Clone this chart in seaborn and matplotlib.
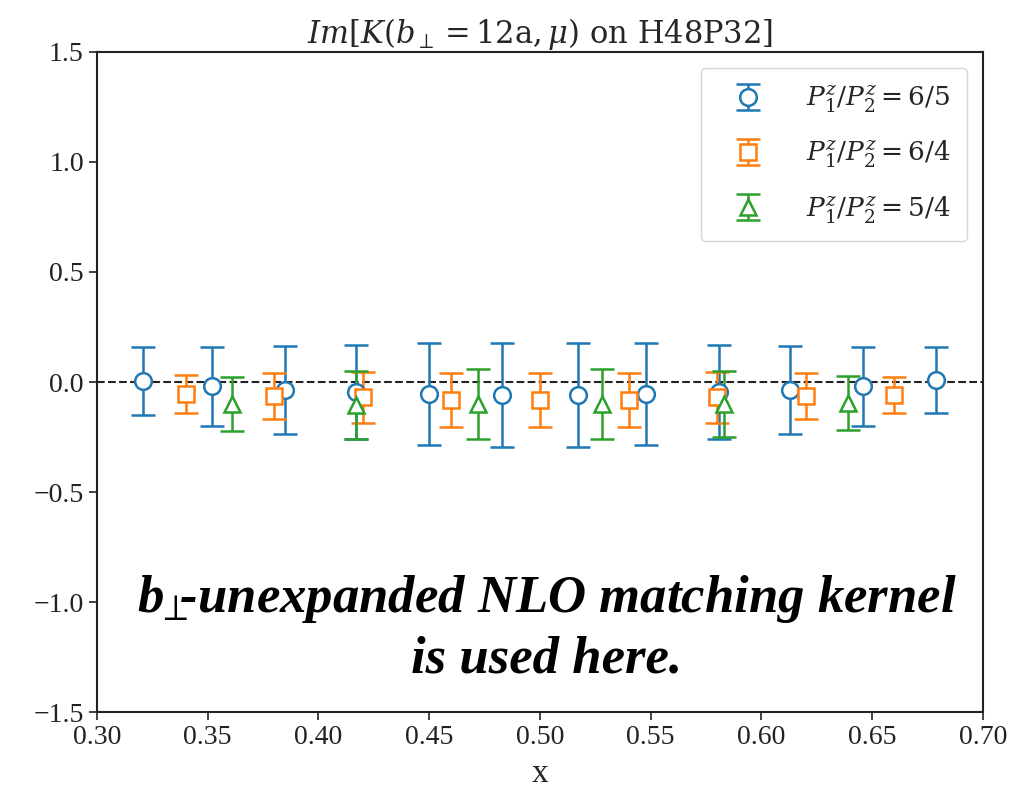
import numpy as np
import matplotlib
matplotlib.use("Agg")
import matplotlib.pyplot as plt
import seaborn as sns
from matplotlib.ticker import FuncFormatter

# ---- data ----
x_65 = [0.321, 0.352, 0.385, 0.417, 0.450, 0.483, 0.517, 0.548, 0.581, 0.613, 0.646, 0.679]
y_65 = [0.005, -0.02, -0.035, -0.045, -0.055, -0.06, -0.06, -0.055, -0.045, -0.035, -0.02, 0.01]
e_65 = [0.155, 0.18, 0.20, 0.215, 0.23, 0.235, 0.235, 0.23, 0.215, 0.20, 0.18, 0.15]

x_64 = [0.34, 0.38, 0.42, 0.46, 0.50, 0.54, 0.58, 0.62, 0.66]
y_64 = [-0.055, -0.065, -0.07, -0.08, -0.08, -0.08, -0.07, -0.065, -0.06]
e_64 = [0.085, 0.105, 0.117, 0.123, 0.123, 0.123, 0.117, 0.105, 0.083]

x_54 = [0.361, 0.417, 0.472, 0.528, 0.583, 0.639]
y_54 = [-0.10, -0.105, -0.10, -0.10, -0.10, -0.095]
e_54 = [0.124, 0.153, 0.157, 0.157, 0.152, 0.122]

labels = [r"$P_1^z/P_2^z = 6/5$", r"$P_1^z/P_2^z = 6/4$", r"$P_1^z/P_2^z = 5/4$"]
title = r"$Im[K(b_\perp = 12\mathrm{a}, \mu)$ on H48P32]"
xticks = [0.30, 0.35, 0.40, 0.45, 0.50, 0.55, 0.60, 0.65, 0.70]
yticks = [-1.5, -1.0, -0.5, 0.0, 0.5, 1.0, 1.5]

sns.set_style("ticks")
plt.rcParams["font.family"] = ["Liberation Serif", "DejaVu Serif"]
plt.rcParams["mathtext.fontset"] = "dejavuserif"
plt.rcParams["axes.unicode_minus"] = True

colors = sns.color_palette("tab10", 3)
fig = plt.figure(figsize=(10.26, 7.96), dpi=100)
ax = fig.add_axes([0.0945, 0.1055, 0.8635, 0.8292])

series = [(x_65, y_65, e_65, "o"), (x_64, y_64, e_64, "s"), (x_54, y_54, e_54, "^")]
for (xs, ys, es, m), c, lab in zip(series, colors, labels):
    ax.errorbar(xs, ys, yerr=es, fmt=m, color=c, mfc="white", mec=c, mew=1.8,
                ms=12, capsize=8.5, capthick=1.8, elinewidth=1.8, label=lab, zorder=3)

ax.axhline(0, color="#222222", ls="--", lw=1.5, zorder=2)

ax.set_xlim(0.30, 0.70)
ax.set_ylim(-1.5, 1.5)
ax.set_xticks(xticks)
ax.set_yticks(yticks)
ax.xaxis.set_major_formatter(FuncFormatter(lambda v, p: f"{v:.2f}".replace("-", "\u2212")))
ax.yaxis.set_major_formatter(FuncFormatter(lambda v, p: f"{v:.1f}".replace("-", "\u2212")))
ax.tick_params(direction="out", length=6, width=1.2, colors="#222222", labelsize=20)
for s in ax.spines.values():
    s.set_color("#222222")
    s.set_linewidth(1.5)

ax.set_xlabel("x", fontsize=24, labelpad=6)
ax.set_title(title, fontfamily="DejaVu Serif", fontsize=22, pad=6)

ax.legend(loc="upper right", prop={"family": "DejaVu Serif", "size": 19},
          frameon=True, fancybox=True, edgecolor="#cccccc",
          handlelength=2.4, handletextpad=1.0, borderpad=0.6, labelspacing=0.9,
          borderaxespad=0.6)

ax.text(0.503, -1.045, r"b$\!_\perp\!\!$-unexpanded NLO matching kernel", ha="center", va="baseline",
        color="black", fontweight="bold", fontstyle="italic", fontsize=38, zorder=5)
ax.text(0.503, -1.32, "is used here.", ha="center", va="baseline",
        color="black", fontweight="bold", fontstyle="italic", fontsize=38, zorder=5)

fig.savefig("out.png", dpi=100)
